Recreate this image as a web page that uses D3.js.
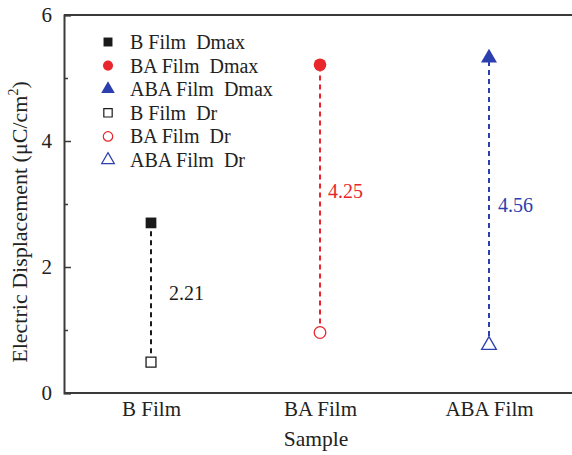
<!DOCTYPE html>
<html>
<head>
<meta charset="utf-8">
<script src="https://cdn.jsdelivr.net/npm/d3@7"></script>
<style>
  html, body { margin: 0; padding: 0; background: #fff; }
  svg { display: block; font-family: "Liberation Serif", "Times New Roman", serif; }
  svg text { white-space: pre; }
</style>
</head>
<body>
<svg id="chart" width="572" height="455"></svg>
<script>
// Samples along the x axis
const samples = ["B Film", "BA Film", "ABA Film"];
// Maximum electric displacement per sample (μC/cm²)
const dmax = [2.70, 5.21, 5.32];
// Remnant electric displacement per sample (μC/cm²)
const dr = [0.49, 0.96, 0.76];
// Difference labels written beside each connector
const diffLabels = ["2.21", "4.25", "4.56"];
// Series colours per sample
const colors = ["#1a1a1a", "#e8262b", "#2b3fae"];
// Y axis tick values
const yTicks = [0, 2, 4, 6];
const yMinorTicks = [1, 3, 5];
// Legend entries
const legendNames = ["B Film  Dmax", "BA Film  Dmax", "ABA Film  Dmax", "B Film  Dr", "BA Film  Dr", "ABA Film  Dr"];

const svg = d3.select("#chart");
const W = 572, H = 455;
const x0 = 64, x1 = W + 10;
const yTop = 15, yBot = 393;
const serif = "Liberation Serif, Times New Roman, serif";

const x = d3.scalePoint().domain(samples).range([151, 489]);
const y = d3.scaleLinear().domain([0, 6]).range([yBot, yTop]);

const axisColor = "#3a3a3a";

// Frame: top and bottom lines (left line comes from the axis)
svg.append("line").attr("x1", x0).attr("x2", x1).attr("y1", yTop).attr("y2", yTop)
  .attr("stroke", axisColor).attr("stroke-width", 2);
svg.append("line").attr("x1", x0).attr("x2", x1).attr("y1", yBot).attr("y2", yBot)
  .attr("stroke", axisColor).attr("stroke-width", 2);

// Left axis with inward ticks
const yAxis = d3.axisLeft(y).tickValues(yTicks).tickSize(-7).tickPadding(12).tickFormat(d3.format("d"));
const gy = svg.append("g").attr("transform", `translate(${x0},0)`).call(yAxis);
gy.select(".domain").attr("stroke", axisColor).attr("stroke-width", 2);
gy.selectAll(".tick line").attr("stroke", axisColor).attr("stroke-width", 1.5);
gy.selectAll(".tick text").attr("font-size", 21).attr("fill", "#222")
  .attr("font-family", serif);
const gyMinor = svg.append("g").attr("transform", `translate(${x0},0)`)
  .call(d3.axisLeft(y).tickValues(yMinorTicks).tickSize(-4).tickFormat(""));
gyMinor.select(".domain").remove();
gyMinor.selectAll(".tick line").attr("stroke", axisColor).attr("stroke-width", 1.5);

// Bottom category labels
const gx = svg.append("g").attr("transform", `translate(0,${yBot})`)
  .call(d3.axisBottom(x).tickSize(0).tickPadding(8));
gx.select(".domain").remove();
gx.selectAll(".tick text").attr("font-size", 21).attr("fill", "#222")
  .attr("font-family", serif);

// Axis titles
svg.append("text").attr("x", 316).attr("y", 446).attr("text-anchor", "middle")
  .attr("font-size", 21.5).attr("fill", "#222").text("Sample");
const yt = svg.append("text").attr("transform", `translate(27,222) rotate(-90)`)
  .attr("text-anchor", "middle").attr("font-size", 22).attr("fill", "#222");
yt.append("tspan").text("Electric Displacement (μC/cm");
yt.append("tspan").attr("font-size", 14).attr("dy", -9).text("2");
yt.append("tspan").attr("dy", 9).text(")");

// Marker shapes per sample
const shapes = [d3.symbolSquare, d3.symbolCircle, d3.symbolTriangle];
const sizes = [115, 125, 110];

// Dashed connectors from Dr to Dmax
samples.forEach((s, i) => {
  svg.append("line")
    .attr("x1", x(s)).attr("x2", x(s))
    .attr("y1", y(dr[i])).attr("y2", y(dmax[i]))
    .attr("stroke", colors[i]).attr("stroke-width", 2)
    .attr("stroke-dasharray", "5,4");
});

// Filled Dmax markers
samples.forEach((s, i) => {
  svg.append("path")
    .attr("d", d3.symbol().type(shapes[i]).size(sizes[i])())
    .attr("transform", `translate(${x(s)},${y(dmax[i])})`)
    .attr("fill", colors[i]);
});

// Hollow Dr markers
samples.forEach((s, i) => {
  svg.append("path")
    .attr("d", d3.symbol().type(shapes[i]).size(sizes[i] * 0.85)())
    .attr("transform", `translate(${x(s)},${y(dr[i])})`)
    .attr("fill", "#fff").attr("stroke", colors[i]).attr("stroke-width", 1.3);
});

// Difference labels beside connectors, near the middle of each connector
const labelDx = [18, 8, 9];
const labelDy = [0, -8, 4];
samples.forEach((s, i) => {
  const mid = (dmax[i] + dr[i]) / 2;
  svg.append("text")
    .attr("x", x(s) + labelDx[i]).attr("y", y(mid) + labelDy[i])
    .attr("dy", "0.35em")
    .attr("font-size", 20).attr("fill", colors[i])
    .text(diffLabels[i]);
});

// Legend
const leg = svg.append("g");
legendNames.forEach((name, k) => {
  const i = k % 3;
  const filled = k < 3;
  const ly = 42 + k * 23.6;
  leg.append("path")
    .attr("d", d3.symbol().type(shapes[i]).size(filled ? 80 : 70)())
    .attr("transform", `translate(108,${ly})`)
    .attr("fill", filled ? colors[i] : "#fff")
    .attr("stroke", filled ? "none" : colors[i]).attr("stroke-width", 1.2);
  leg.append("text").attr("x", 130).attr("y", ly).attr("dy", "0.35em")
    .attr("font-size", 20).attr("fill", "#222").text(name);
});
</script>
</body>
</html>
